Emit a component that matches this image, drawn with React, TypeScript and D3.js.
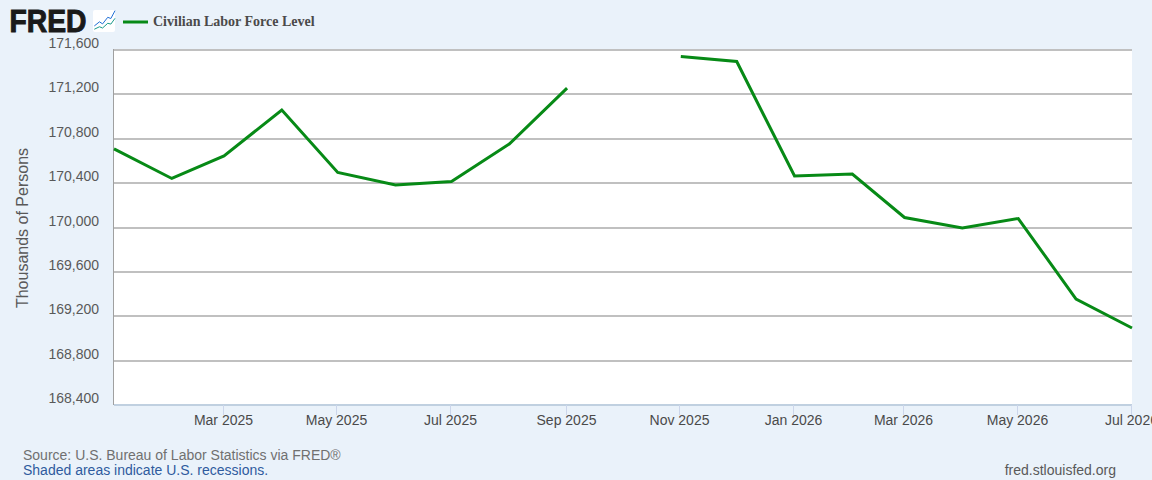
import React from "react";
import * as d3 from "d3";

const months: string[] = ["2025-01","2025-02","2025-03","2025-04","2025-05","2025-06","2025-07","2025-08","2025-09","2025-10","2025-11","2025-12","2026-01","2026-02","2026-03","2026-04","2026-05","2026-06","2026-07"];
const laborForce: (number | null)[] = [170708,170442,170645,171059,170496,170383,170415,170753,171257,null,171541,171496,170464,170482,170090,169995,170081,169355,169094];
const yTicks: number[] = [168400,168800,169200,169600,170000,170400,170800,171200,171600];
const xTickMonths: string[] = ["2025-03","2025-05","2025-07","2025-09","2025-11","2026-01","2026-03","2026-05","2026-07"];
const iconSteps: number[] = [0,2.5,4,6.5,8,10];
const iconBlue: number[] = [2.6,4.6,3.6,6.8,6.2,10];
const iconTeal: number[] = [1,2.2,1.6,3.9,3.5,6.3];

const W = 1152, H = 480;
const M = { l: 114, r: 1132, t: 50, b: 405 };
const parse = d3.utcParse("%Y-%m")!;
const x = d3.scaleUtc().domain([parse(months[0])!, parse(months[months.length-1])!]).range([M.l, M.r]);
const y = d3.scaleLinear().domain([168400,171600]).range([M.b, M.t]);
const line = d3.line<number|null>().defined(d => d !== null)
  .x((_, i) => x(parse(months[i])!)).y(d => y(d as number));
const fmtY = d3.format(",");
const fmtX = d3.utcFormat("%b %Y");
const sans = "'Liberation Sans', Arial, sans-serif";

const ix = d3.scaleLinear().domain([0,10]).range([94.3,115]);
const iy = d3.scaleLinear().domain([0,10]).range([31.3,10.7]);
const iconPath = (vals: number[]) => d3.line<number>().x((_, i) => ix(iconSteps[i])).y(d => iy(d))(vals) as string;

export default function App() {
  return (
    <svg width={W} height={H} viewBox={`0 0 ${W} ${H}`} style={{position:"absolute",left:0,top:0,display:"block",background:"#eaf2fa",fontFamily:sans}}>
      <rect x={M.l} y={M.t} width={M.r-M.l} height={M.b-M.t} fill="#fff"/>
      {yTicks.map(t => <line key={t} x1={M.l} x2={M.r} y1={Math.round(y(t))} y2={Math.round(y(t))} stroke={t===168400?"#c0d0e0":"#c0c0c0"} strokeWidth={2}/>)}
      <line x1={M.l-0.5} x2={M.l-0.5} y1={M.t-1} y2={M.b} stroke="#a0a0a0" strokeWidth={1}/>
      {yTicks.map(t => <text key={t} x={99} y={y(t)-2} textAnchor="end" fontSize={14} fill="#595959">{fmtY(t)}</text>)}
      {xTickMonths.map(m => {const px=Math.floor(x(parse(m)!)-1)+0.5;return <g key={m}>
        <line x1={px} x2={px} y1={M.b} y2={M.b+10} stroke="#ccd6eb"/>
        <text x={px} y={425} textAnchor="middle" fontSize={14} fill="#4a4a4a">{fmtX(parse(m)!)}</text></g>;})}
      <text transform={`translate(28,${228}) rotate(-90)`} textAnchor="middle" fontSize={16} fill="#595959">Thousands of Persons</text>
      <path d={line(laborForce) as string} fill="none" stroke="#078a16" strokeWidth={3}/>
      <text x={9.5} y={32} fontSize={31} fontWeight={700} fill="#1a1a1a" stroke="#1a1a1a" strokeWidth={1} textLength={77} lengthAdjust="spacingAndGlyphs">FRED</text>
      <rect x={93} y={10} width={22} height={22} rx={2} fill="#fff"/>
      <path d={iconPath(iconBlue)} fill="none" stroke="#1f6fd6" strokeWidth={1}/>
      <path d={iconPath(iconTeal)} fill="none" stroke="#1a9a8a" strokeWidth={1}/>
      <line x1={123} x2={148} y1={22} y2={22} stroke="#078a16" strokeWidth={3}/>
      <text x={153} y={26} fontSize={14} fontWeight={700} fontFamily="'Liberation Serif', serif" fill="#4a4a4a">Civilian Labor Force Level</text>
      <text x={23} y={460} fontSize={14} fill="#707070">Source: U.S. Bureau of Labor Statistics via FRED®</text>
      <text x={23} y={475} fontSize={14} fill="#2f5b9e">Shaded areas indicate U.S. recessions.</text>
      <text x={1116} y={475} textAnchor="end" fontSize={14} fill="#595959">fred.stlouisfed.org</text>
    </svg>
  );
}
